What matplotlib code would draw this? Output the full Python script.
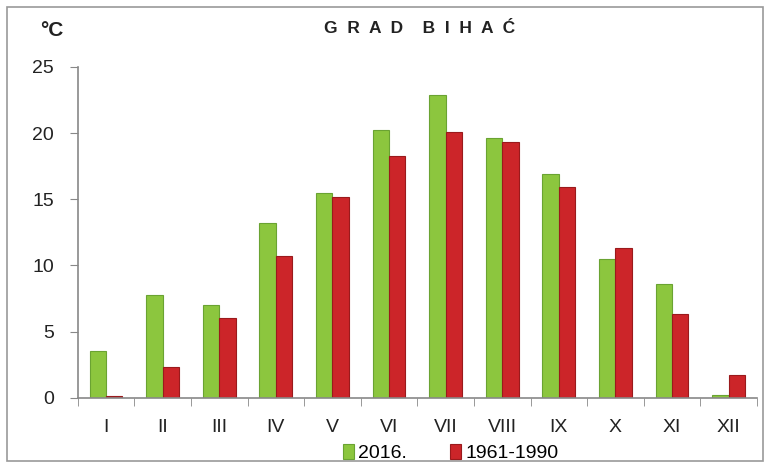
import matplotlib
matplotlib.use('Agg')
import matplotlib.pyplot as plt
from matplotlib.patches import Rectangle
import numpy as np

months = ['I', 'II', 'III', 'IV', 'V', 'VI', 'VII', 'VIII', 'IX', 'X', 'XI', 'XII']
t2016 = [3.5, 7.8, 7.0, 13.2, 15.5, 20.2, 22.9, 19.6, 16.9, 10.5, 8.6, 0.2]
t1961_1990 = [0.1, 2.3, 6.0, 10.7, 15.2, 18.3, 20.1, 19.3, 15.9, 11.3, 6.3, 1.7]

plt.rcParams['font.family'] = ['Liberation Sans', 'DejaVu Sans']

fig = plt.figure(figsize=(7.7, 4.68), dpi=100)
fig.patches.append(Rectangle((0.009, 0.015), 0.982, 0.97, transform=fig.transFigure,
                             fill=False, edgecolor='#999999', linewidth=1.2))
ax = fig.add_axes([0.101, 0.15, 0.882, 0.707])

x = np.arange(len(months))
w = 0.29
ax.bar(x - w/2, t2016, w, color='#8cc63e', edgecolor='#6aa332', linewidth=0.8, label='2016.')
ax.bar(x + w/2, t1961_1990, w, color='#cc2529', edgecolor='#9a1a1c', linewidth=0.8, label='1961-1990')

ax.set_xlim(-0.5, len(months) - 0.5)
ax.set_ylim(0, 25)
ax.set_yticks([0, 5, 10, 15, 20, 25])
ax.set_xticks(x)
ax.set_xticklabels(months)
ax.set_xticks(np.arange(-0.5, len(months)), minor=True)
ax.tick_params(axis='x', which='major', length=0, pad=15, labelsize=14, colors='#222222')
ax.tick_params(axis='x', which='minor', length=6, color='#888888', direction='out')
ax.tick_params(axis='y', length=6, color='#888888', labelsize=14, pad=11, labelcolor='#222222')

for s in ['top', 'right']:
    ax.spines[s].set_visible(False)
for s in ['left', 'bottom']:
    ax.spines[s].set_color('#888888')
    ax.spines[s].set_linewidth(1.2)

fig.text(0.545, 0.94, 'G  R  A  D    B  I  H  A  Ć', ha='center', va='center',
         fontsize=12.5, fontweight='bold', color='#222222')
fig.text(0.067, 0.935, '°C', ha='center', va='center', fontsize=15,
         fontweight='bold', color='#222222')

fig.legend(loc='lower center', bbox_to_anchor=(0.585, -0.025), ncol=2, frameon=False,
           fontsize=14, handlelength=0.6, handleheight=0.8, handletextpad=0.2,
           columnspacing=2.2)

fig.savefig('out.png', dpi=100)
